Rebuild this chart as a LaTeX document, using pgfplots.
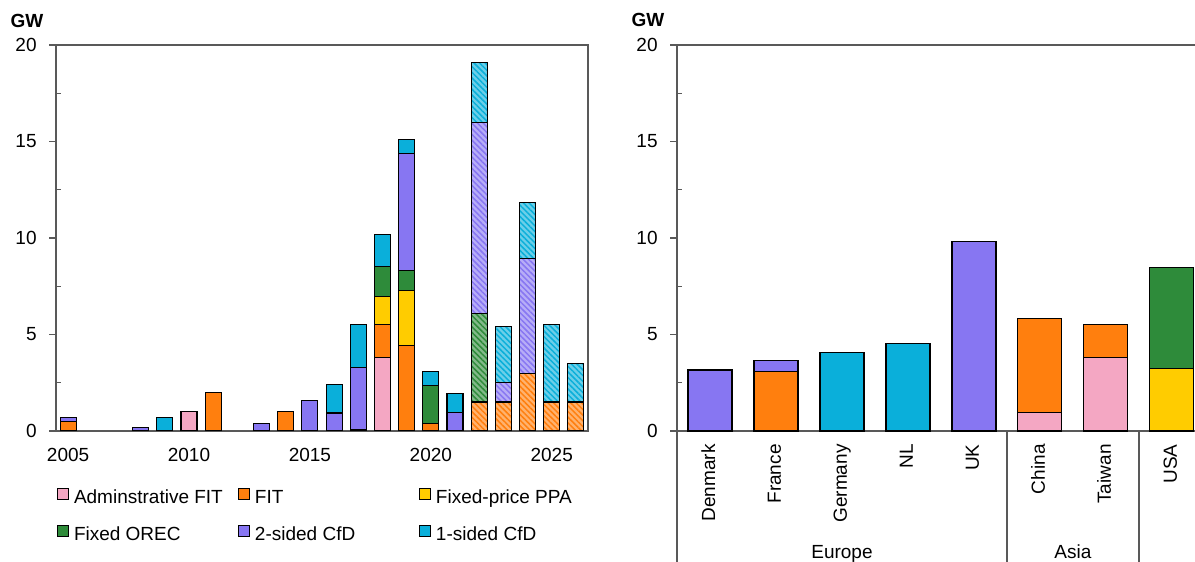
\documentclass[border=0pt]{standalone}
\usepackage{fontspec}
\setmainfont{Liberation Sans}
\usepackage{pgfplots}
\pgfplotsset{compat=1.18}
\usepackage{pgfplotstable}
\usetikzlibrary{patterns.meta}

\definecolor{cpink}{HTML}{F4A7C3}
\definecolor{corange}{HTML}{FF7F0E}
\definecolor{cyellow}{HTML}{FFCC00}
\definecolor{cgreen}{HTML}{2E8B3A}
\definecolor{cpurple}{HTML}{8776F2}
\definecolor{ccyan}{HTML}{0AAFDA}
\definecolor{axisgray}{HTML}{595959}

% awards by year; h* columns are the hatched (later) rounds
\pgfplotstableread{
year pink orange yellow green purple cyan hora hgre hpur hcya
2005 0    0.47 0    0    0.22 0    0   0   0    0
2006 0    0    0    0    0    0    0   0   0    0
2007 0    0    0    0    0    0    0   0   0    0
2008 0    0    0    0    0.2  0    0   0   0    0
2009 0    0    0    0    0    0.72 0   0   0    0
2010 1.0  0    0    0    0    0    0   0   0    0
2011 0    2.0  0    0    0    0    0   0   0    0
2012 0    0    0    0    0    0    0   0   0    0
2013 0    0    0    0    0.4  0    0   0   0    0
2014 0    1.0  0    0    0    0    0   0   0    0
2015 0    0    0    0    1.6  0    0   0   0    0
2016 0    0    0    0    0.93 1.47 0   0   0    0
2017 0    0    0.1  0    3.2  2.23 0   0   0    0
2018 3.83 1.69 1.47 1.55 0    1.66 0   0   0    0
2019 0    4.45 2.81 1.07 6.06 0.73 0   0   0    0
2020 0    0.38 0    1.98 0    0.74 0   0   0    0
2021 0    0    0    0    0.95 1.0  0   0   0    0
2022 0    0    0    0    0    0    1.5 4.6 9.9  3.1
2023 0    0    0    0    0    0    1.5 0   1.0  2.9
2024 0    0    0    0    0    0    3.0 0   5.96 2.9
2025 0    0    0    0    0    0    1.5 0   0    4.0
2026 0    0    0    0    0    0    1.5 0   0    2.0
}\yeardata

\pgfplotstableread{
idx pink orange yellow green purple cyan
0 0    0    0    0    3.16 0
1 0    3.07 0    0    0.6  0
2 0    0    0    0    0    4.07
3 0    0    0    0    0    4.54
4 0    0    0    0    9.8  0
5 0.97 4.86 0    0    0    0
6 3.8  1.7  0    0    0    0
7 0    0    3.23 5.26 0    0
}\countrydata

\pgfplotsset{
  gwbase/.style={
    scale only axis, anchor=south west, height=193pt,
    ybar stacked, ymin=0, ymax=20,
    ytick={0,5,10,15,20}, ytick pos=left,
    extra y ticks={2.5,7.5,12.5,17.5}, extra y tick labels={},
    extra y tick style={tick align=inside, major tick length=2.5pt},
    tick align=outside, major tick length=3.5pt,
    tick style={axisgray, line width=0.6pt},
    axis line style={axisgray, line width=0.6pt},
    /pgf/number format/assume math mode=true,
    font=\fontsize{9.5pt}{11.4pt}\selectfont,
    yticklabel style={inner sep=0pt},
    yticklabel shift=6pt,
  },
  sfill/.style={fill=#1, draw=black, line width=0.55pt,
    legend image code/.code={\draw[fill=#1, draw=black, line width=0.5pt] (0pt,-0.3pt) rectangle (5.5pt,5.2pt);}},
  hatch/.style={fill=#1!60!white, draw=black, line width=0.55pt,
    postaction={pattern={Lines[angle=-45,distance=2pt,line width=0.75pt]}, pattern color=#1}},
}

\begin{document}
\begin{tikzpicture}
\path[use as bounding box] (0,0) rectangle (597.5pt,281pt);

\begin{axis}[gwbase,
  at={(28pt,65.5pt)}, width=266pt,
  bar width=8pt,
  xmin=2004.5, xmax=2026.5,
  xtick={2005,2010,2015,2020,2025}, xtick style={draw=none},
  xtick pos=bottom,
  x tick label style={/pgf/number format/1000 sep={}, inner sep=0pt},
  xticklabel shift=5pt,
  legend columns=3,
  legend cell align=left,
  legend style={at={(0,0)}, anchor=north west, xshift=0.5pt, yshift=-28.5pt,
    draw=none, fill=none, inner sep=0pt, outer sep=0pt, row sep=8.5pt,
    nodes={inner sep=0pt, text height=7pt, text depth=2pt},
    /tikz/every odd column/.append style={column sep=2.5pt}},
  legend entries={\makebox[82pt][l]{Adminstrative FIT},\makebox[82pt][l]{FIT},\makebox[82pt][l]{Fixed-price PPA},\makebox[82pt][l]{Fixed OREC},\makebox[82pt][l]{2-sided CfD},\makebox[82pt][l]{1-sided CfD}},
]
\addplot[sfill=cpink] table[x=year,y=pink]{\yeardata};
\addplot[sfill=corange] table[x=year,y=orange]{\yeardata};
\addplot[sfill=cyellow] table[x=year,y=yellow]{\yeardata};
\addplot[sfill=cgreen] table[x=year,y=green]{\yeardata};
\addplot[sfill=cpurple] table[x=year,y=purple]{\yeardata};
\addplot[sfill=ccyan] table[x=year,y=cyan]{\yeardata};
\addplot[hatch=corange] table[x=year,y=hora]{\yeardata};
\addplot[hatch=cgreen] table[x=year,y=hgre]{\yeardata};
\addplot[hatch=cpurple] table[x=year,y=hpur]{\yeardata};
\addplot[hatch=ccyan] table[x=year,y=hcya]{\yeardata};
\end{axis}

\begin{axis}[gwbase,
  at={(338.5pt,65.5pt)}, width=259pt,
  bar width=22pt,
  xmin=-0.5, xmax=7.35,
  axis x line*=bottom, axis y line*=left,
  clip=false,
  xtick={0,...,7},
  xticklabels={Denmark,France,Germany,NL,UK,China,Taiwan,USA},
  xtick style={draw=none},
  xticklabel style={rotate=90, anchor=east, inner sep=0pt, text height=7pt, text depth=2pt},
  xticklabel shift=3pt,
]
\addplot[sfill=cpink] table[x=idx,y=pink]{\countrydata};
\addplot[sfill=corange] table[x=idx,y=orange]{\countrydata};
\addplot[sfill=cyellow] table[x=idx,y=yellow]{\countrydata};
\addplot[sfill=cgreen] table[x=idx,y=green]{\countrydata};
\addplot[sfill=cpurple] table[x=idx,y=purple]{\countrydata};
\addplot[sfill=ccyan] table[x=idx,y=cyan]{\countrydata};
\draw[axisgray, line width=0.6pt] (rel axis cs:0,1) -- (rel axis cs:1,1);
\draw[axisgray, line width=0.6pt] (axis cs:-0.5,0) -- ([yshift=-70pt]axis cs:-0.5,0);
\draw[axisgray, line width=0.6pt] (axis cs:4.5,0) -- ([yshift=-70pt]axis cs:4.5,0);
\draw[axisgray, line width=0.6pt] (axis cs:6.5,0) -- ([yshift=-70pt]axis cs:6.5,0);
\node[anchor=base, font=\fontsize{9.5pt}{11.4pt}\selectfont] at ([yshift=-63.5pt]axis cs:2,0) {Europe};
\node[anchor=base, font=\fontsize{9.5pt}{11.4pt}\selectfont] at ([yshift=-63.5pt]axis cs:5.5,0) {Asia};
\end{axis}

\node[font=\fontsize{9.5pt}{11.4pt}\selectfont\bfseries] at (13.5pt,270.5pt) {GW};
\node[font=\fontsize{9.5pt}{11.4pt}\selectfont\bfseries] at (324pt,271pt) {GW};
\end{tikzpicture}
\end{document}
